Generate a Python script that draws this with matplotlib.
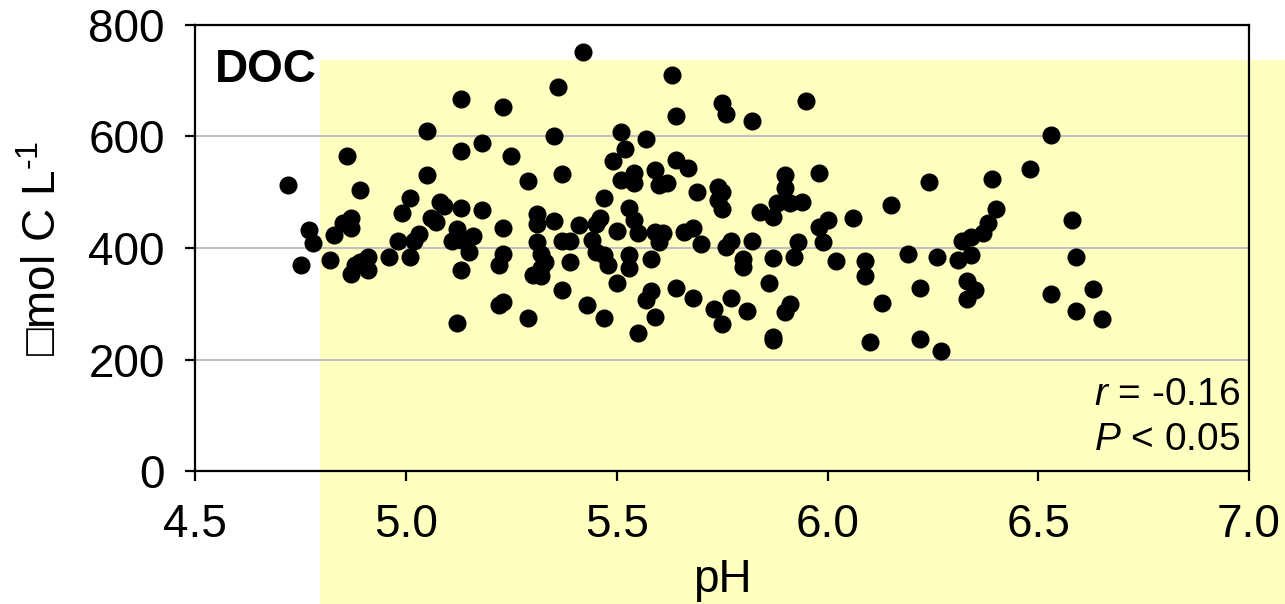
import matplotlib
matplotlib.use('Agg')
import matplotlib.pyplot as plt
from matplotlib.patches import Rectangle

# pH and DOC (umol C/L)
ph = [4.86, 4.72, 4.89, 4.87, 4.85, 4.87, 4.77, 4.83, 4.78, 4.82, 4.75, 4.91, 4.88, 4.87, 4.91, 4.89,
      5.13, 5.05, 5.18, 5.13, 5.05, 5.01, 4.99, 5.08, 5.09, 5.13, 5.18, 5.06, 5.07, 5.03, 5.02, 4.98,
      4.96, 5.01, 5.12, 5.11, 5.13, 5.16, 5.15, 5.13, 5.12,
      5.42, 5.36, 5.23, 5.35, 5.25, 5.29, 5.37, 5.31, 5.31, 5.35, 5.23, 5.41, 5.31, 5.37, 5.39, 5.23,
      5.22, 5.32, 5.33, 5.30, 5.32, 5.32, 5.39, 5.37, 5.23, 5.22, 5.29, 5.43,
      5.63, 5.64, 5.51, 5.57, 5.52, 5.49, 5.64, 5.67, 5.54, 5.51, 5.54, 5.59, 5.60, 5.62, 5.47, 5.53,
      5.54, 5.46, 5.45, 5.50, 5.55, 5.59, 5.61, 5.60, 5.66, 5.68, 5.44, 5.45, 5.47, 5.48, 5.53, 5.53,
      5.58, 5.50, 5.58, 5.57, 5.47, 5.59, 5.55, 5.64, 5.68,
      5.75, 5.76, 5.82, 5.69, 5.74, 5.75, 5.74, 5.75, 5.90, 5.90, 5.88, 5.91, 5.84, 5.87, 5.70, 5.76,
      5.77, 5.82, 5.80, 5.80, 5.87, 5.92, 5.93, 5.86, 5.73, 5.77, 5.75, 5.81, 5.90, 5.91, 5.87, 5.87,
      5.95, 5.98, 5.94, 6.15, 5.98, 6.00, 6.06, 5.99, 6.02, 6.09, 6.09, 6.13, 6.10,
      6.24, 6.39, 6.40, 6.38, 6.37, 6.34, 6.32, 6.19, 6.26, 6.31, 6.34, 6.33, 6.35, 6.33, 6.22, 6.22, 6.27,
      6.53, 6.48, 6.58, 6.59, 6.53, 6.63, 6.59, 6.65]
doc = [564, 512, 504, 454, 444, 436, 433, 423, 408, 378, 369, 384, 369, 353, 360, 374,
       667, 610, 588, 573, 531, 489, 462, 483, 476, 472, 468, 454, 446, 425, 413, 413,
       384, 384, 434, 413, 414, 422, 393, 361, 265,
       752, 688, 652, 600, 564, 520, 532, 461, 443, 448, 435, 441, 411, 413, 413, 390,
       370, 390, 375, 352, 349, 364, 374, 325, 304, 298, 274, 297,
       710, 636, 607, 595, 577, 556, 557, 543, 534, 522, 516, 540, 513, 516, 489, 471,
       450, 453, 443, 431, 426, 429, 426, 411, 428, 436, 414, 393, 387, 370, 387, 364,
       380, 337, 322, 307, 274, 277, 248, 328, 310,
       660, 640, 628, 501, 510, 501, 486, 470, 531, 507, 480, 480, 465, 456, 407, 402,
       413, 413, 380, 365, 382, 384, 411, 337, 290, 310, 263, 287, 286, 299, 241, 235,
       663, 535, 483, 477, 438, 450, 454, 411, 376, 376, 349, 301, 232,
       519, 523, 470, 444, 426, 420, 413, 389, 384, 379, 388, 341, 325, 308, 328, 237, 215,
       602, 541, 450, 384, 317, 327, 287, 273]

xticks = [4.5, 5.0, 5.5, 6.0, 6.5, 7.0]
yticks = [0, 200, 400, 600, 800]

plt.rcParams['font.family'] = ['Liberation Sans', 'DejaVu Sans']
plt.rcParams['mathtext.fontset'] = 'custom'
plt.rcParams['mathtext.rm'] = 'Liberation Sans'
plt.rcParams['mathtext.it'] = 'Liberation Sans:italic'

fig = plt.figure(figsize=(12.85, 6.04), dpi=100)
# pale yellow panel behind the plot (sits partly outside the axes)
fig.patches.append(Rectangle((0.249, 0), 0.751, 0.901, transform=fig.transFigure,
                             facecolor='#ffffc0', edgecolor='none', zorder=-1))

ax = fig.add_axes([0.152, 0.220, 0.820, 0.739])
ax.set_facecolor('none')

ax.plot(ph, doc, 'o', color='black', ms=12, zorder=3)

ax.set_xlim(4.5, 7.0)
ax.set_ylim(0, 800)
ax.set_xticks(xticks)
ax.set_xticklabels([f'{t:.1f}' for t in xticks])
ax.set_yticks(yticks)
ax.yaxis.grid(True, color='#c0c0c0', lw=1.5)
ax.set_axisbelow(True)

for s in ax.spines.values():
    s.set_linewidth(1.6)
    s.set_color('black')
ax.tick_params(axis='both', labelsize=33, length=7, width=1.6, direction='out')
ax.tick_params(axis='x', pad=16)
ax.tick_params(axis='y', pad=15)

ax.set_xlabel('pH', fontsize=33, labelpad=8)
ax.set_ylabel('\u25a1mol C L$^{\\text{-1}}$', fontsize=33, labelpad=16)

ax.text(0.019, 0.899, 'DOC', transform=ax.transAxes, fontsize=33, fontweight='bold',
        ha='left', va='center')
ax.text(0.9915, 0.170, '$r$ = -0.16', transform=ax.transAxes, fontsize=28, ha='right', va='center')
ax.text(0.9915, 0.0695, '$P$ < 0.05', transform=ax.transAxes, fontsize=28, ha='right', va='center')

fig.savefig('out.png', dpi=100)
